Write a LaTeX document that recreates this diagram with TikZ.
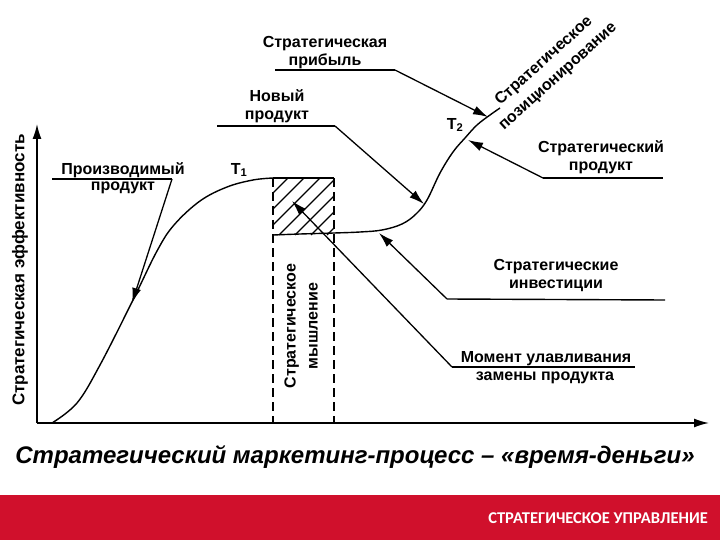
\documentclass[tikz,border=0pt]{standalone}
\usepackage{fontspec}
\setmainfont{Liberation Sans}
\newfontfamily\barfont{Carlito}
\usetikzlibrary{arrows.meta}
\definecolor{barred}{RGB}{208,16,44}
\begin{document}
\begin{tikzpicture}[x=1pt,y=-1pt,
  lbl/.style={font=\bfseries\fontsize{16}{18}\selectfont, align=center, inner sep=0pt},
  crv/.style={line width=1.4pt},
  uline/.style={line width=1.4pt},
  lead/.style={line width=1.3pt, -{Latex[length=15pt,width=9pt]}},
  axis/.style={line width=1.6pt, -{Latex[length=15pt,width=9pt]}},
  colline/.style={line width=1.2pt, dash pattern=on 9pt off 5pt},
  hatch/.style={line width=1.1pt}]
\useasboundingbox (0,0) rectangle (720,540);
\fill[white] (0,0) rectangle (720,540);
% bottom bar
\fill[barred] (0,495) rectangle (720,540);
\node[font=\barfont\bfseries\fontsize{16.5}{20}\selectfont, text=white, anchor=east, inner sep=0pt] (bar) at (708,518) {СТРАТЕГИЧЕСКОЕ УПРАВЛЕНИЕ};
% title
\node[font=\bfseries\itshape\fontsize{24}{28}\selectfont, inner sep=0pt] (title) at (355,457) {Стратегический маркетинг-процесс – «время-деньги»};
% axes
\coordinate (O) at (37,423);
\coordinate (Ytop) at (37,124);
\coordinate (Xend) at (709,423);
\draw[axis] (O) -- (Ytop);
\draw[axis] (O) -- (Xend);
\node[lbl, rotate=90, font=\bfseries\fontsize{17}{19}\selectfont] (ylab) at (20,270) {Стратегическая эффективность};
% thinking column
\coordinate (bTL) at (273,178);
\coordinate (bTR) at (334,178);
\coordinate (bBL) at (273,423);
\coordinate (bBR) at (334,423);
\begin{scope}
\clip (273,178) rectangle (334,235);
\foreach \s in {466,482,...,562} \draw[hatch] ({\s-178},178) -- ({\s-235},235);
\end{scope}
\draw[uline] (bTL) -- (bTR);
\draw[colline] (bTL) -- (bBL);
\draw[colline] (bTR) -- (bBR);
\node[lbl, rotate=90] (think) at (301,326) {Стратегическое\\[4pt]мышление};
% curves
\draw[crv] plot[smooth, tension=0.6] coordinates {(52,423) (77,403) (100,365) (132,302) (157,251) (174,225) (200,201) (227,187) (253,180) (273,178)};
\draw[crv] plot[smooth, tension=0.6] coordinates {(273,235) (300,234) (334,233) (360,232) (382,230) (402,224) (416,214) (427,200) (440,173) (453,152) (465,138) (477,125) (490,115) (500,108)};
% T labels
\node[lbl] (T1) at (239,170) {T\textsubscript{1}};
\node[lbl] (T2) at (455,125) {T\textsubscript{2}};
% Стратегическая прибыль
\node[lbl] (profit) at (325,53) {Стратегическая\\прибыль};
\coordinate (profitL) at (275,70);
\coordinate (profitR) at (395,70);
\coordinate (profitTip) at (488,117);
\draw[uline] (profitL) -- (profitR);
\draw[lead] (profitR) -- (profitTip);
% Новый продукт
\node[lbl] (newp) at (277,106) {Новый\\продукт};
\coordinate (newL) at (217,126);
\coordinate (newR) at (335,126);
\coordinate (newTip) at (424,204);
\draw[uline] (newL) -- (newR);
\draw[lead] (newR) -- (newTip);
% Производимый продукт
\node[lbl] (prod1) at (123,170) {Производимый};
\node[lbl] (prod2) at (123,188) {продукт};
\coordinate (prodL) at (52,179);
\coordinate (prodR) at (172,179);
\coordinate (prodTip) at (132,303);
\draw[uline] (prodL) -- (prodR);
\draw[lead] (prodR) -- (prodTip);
% Стратегическое позиционирование
\node[lbl, rotate=42, font=\bfseries\fontsize{16}{21}\selectfont] (pos) at (551,69) {Стратегическое\\позиционирование};
% Стратегический продукт
\node[lbl] (sprod) at (601,157) {Стратегический\\продукт};
\coordinate (sprodL) at (543,178);
\coordinate (sprodR) at (663,178);
\coordinate (sprodTip) at (468,140);
\draw[uline] (sprodL) -- (sprodR);
\draw[lead] (sprodL) -- (sprodTip);
% Стратегические инвестиции
\node[lbl] (inv) at (556,276) {Стратегические\\инвестиции};
\coordinate (invL) at (447,299);
\coordinate (invR) at (665,300);
\coordinate (invTip) at (379,233);
\draw[uline] (invL) -- (invR);
\draw[lead] (invL) -- (invTip);
% Момент улавливания
\node[lbl] (mom1) at (546,359) {Момент улавливания};
\node[lbl] (mom2) at (545,378) {замены продукта};
\coordinate (momL) at (452,367);
\coordinate (momR) at (635,367);
\coordinate (momTip) at (292,201);
\draw[uline] (momL) -- (momR);
\draw[lead] (momL) -- (momTip);
\end{tikzpicture}
\end{document}
